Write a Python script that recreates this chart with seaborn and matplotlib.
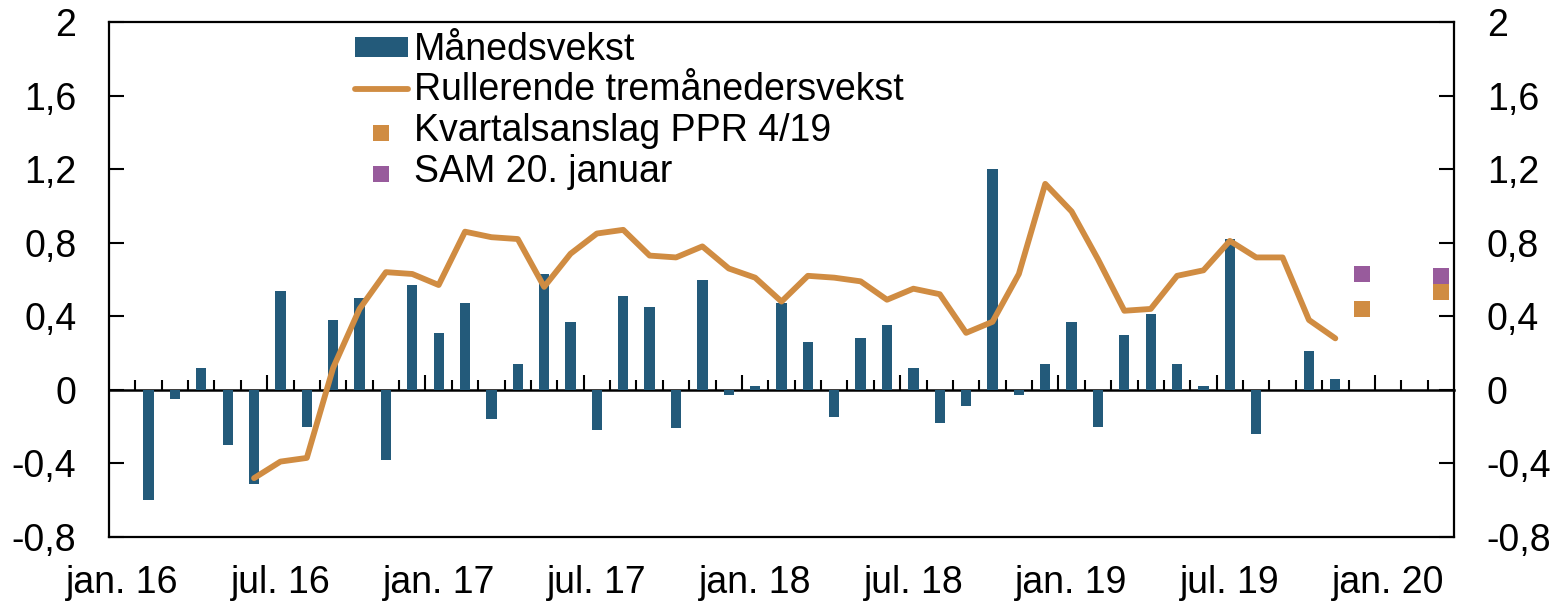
import numpy as np
import pandas as pd
import matplotlib
matplotlib.use('Agg')
import matplotlib.pyplot as plt
from matplotlib.ticker import FixedLocator, FixedFormatter
import seaborn as sns

# måneder jan. 16 - mar. 20
maaneder = pd.date_range('2016-01-01', periods=51, freq='MS').strftime('%Y-%m').tolist()

# månedsvekst (søyler), jan. 16 - nov. 19
manedsvekst = [np.nan, -0.60, -0.05, 0.12, -0.30, -0.51, 0.54, -0.20, 0.38, 0.50, -0.38, 0.57,
               0.31, 0.47, -0.16, 0.14, 0.63, 0.37, -0.22, 0.51, 0.45, -0.21, 0.60, -0.03,
               0.02, 0.47, 0.26, -0.15, 0.28, 0.35, 0.12, -0.18, -0.09, 1.20, -0.03, 0.14,
               0.37, -0.20, 0.30, 0.41, 0.14, 0.02, 0.82, -0.24, np.nan, 0.21, 0.06]
# rullerende tremånedersvekst, jun. 16 - nov. 19
tremnd_start = 5
tremnd = [-0.48, -0.39, -0.37, 0.12, 0.44, 0.64, 0.63,
          0.57, 0.86, 0.83, 0.82, 0.56, 0.74, 0.85, 0.87, 0.73, 0.72, 0.78, 0.66,
          0.61, 0.48, 0.62, 0.61, 0.59, 0.49, 0.55, 0.52, 0.31, 0.37, 0.63, 1.12,
          0.97, 0.71, 0.43, 0.44, 0.62, 0.65, 0.81, 0.72, 0.72, 0.38, 0.28]
# kvartalsanslag (des. 19 og mar. 20)
anslag_pos = [47, 50]
ppr_419 = [0.44, 0.53]
sam_20jan = [0.63, 0.62]

xtick_labels = ['jan. 16', 'jul. 16', 'jan. 17', 'jul. 17', 'jan. 18', 'jul. 18',
                'jan. 19', 'jul. 19', 'jan. 20']
ytick_vals = [-0.8, -0.4, 0, 0.4, 0.8, 1.2, 1.6, 2]
ytick_labels = ['-0,8', '-0,4', '0', '0,4', '0,8', '1,2', '1,6', '2']

blaa = '#235a7a'
oransje = '#d08c42'
lilla = '#985b9c'

sns.set_style('white')
plt.rcParams['font.family'] = ['Liberation Sans', 'DejaVu Sans']
plt.rcParams['text.color'] = 'black'
plt.rcParams['xtick.color'] = 'black'
plt.rcParams['ytick.color'] = 'black'
plt.rcParams['axes.labelcolor'] = 'black'

bar_df = pd.DataFrame({'maaned': maaneder[:len(manedsvekst)], 'vekst': manedsvekst})
line_df = pd.DataFrame({'pos': np.arange(tremnd_start, tremnd_start + len(tremnd)), 'vekst': tremnd})
ppr_df = pd.DataFrame({'pos': anslag_pos, 'vekst': ppr_419})
sam_df = pd.DataFrame({'pos': anslag_pos, 'vekst': sam_20jan})

fig = plt.figure(figsize=(15.62, 6.01), dpi=100)
ax = fig.add_axes([109 / 1562, 64 / 601, (1454 - 109) / 1562, (537 - 22) / 601])

sns.barplot(data=bar_df, x='maaned', y='vekst', order=maaneder, color=blaa, width=0.39,
            linewidth=0, saturation=1, label='Månedsvekst', ax=ax, zorder=2)
sns.lineplot(data=line_df, x='pos', y='vekst', color=oransje, linewidth=4.2,
             label='Rullerende tremånedersvekst', ax=ax, zorder=3)
sns.scatterplot(data=ppr_df, x='pos', y='vekst', color=oransje, marker='s', s=125,
                linewidth=0, label='Kvartalsanslag PPR 4/19', ax=ax, zorder=4)
sns.scatterplot(data=sam_df, x='pos', y='vekst', color=lilla, marker='s', s=125,
                linewidth=0, label='SAM 20. januar', ax=ax, zorder=4)

ax.set_xlim(-0.5, len(maaneder) - 0.5)
ax.set_ylim(-0.8, 2)
ax.set_xlabel('')
ax.set_ylabel('')

# x-akse: etiketter under, ingen streker
ax.xaxis.set_major_locator(FixedLocator(np.arange(0, len(maaneder), 6)))
ax.xaxis.set_major_formatter(FixedFormatter(xtick_labels))
ax.tick_params(axis='x', length=0, pad=20, labelsize=27)

# y-akse på begge sider
ax.yaxis.set_major_locator(FixedLocator(ytick_vals))
ax.yaxis.set_major_formatter(FixedFormatter(ytick_labels))
ax.tick_params(axis='y', direction='in', length=11, width=1.5, pad=23.5, labelsize=27,
               left=True, right=True, labelleft=True, labelright=True)

for sp in ax.spines.values():
    sp.set_visible(True)
    sp.set_color('black')
    sp.set_linewidth(1.6)

# nullinje med månedsstreker
null = ax.secondary_xaxis(0.8 / 2.8)
null.spines['bottom'].set_linewidth(1.8)
null.spines['bottom'].set_color('black')
null.set_xticks(np.arange(5.5, len(maaneder) - 1, 6))
null.set_xticks(np.arange(0.5, len(maaneder) - 1, 1), minor=True)
null.tick_params(axis='x', which='major', direction='in', length=11, width=1.5, labelbottom=False)
null.tick_params(axis='x', which='minor', direction='in', length=7, width=1.5, labelbottom=False)
null.set_xticklabels([])

handles, labels = ax.get_legend_handles_labels()
rekkefolge = ['Månedsvekst', 'Rullerende tremånedersvekst', 'Kvartalsanslag PPR 4/19', 'SAM 20. januar']
h_sortert = [handles[labels.index(n)] for n in rekkefolge]
ax.legend(h_sortert, rekkefolge, loc='upper left', bbox_to_anchor=(355 / 1562, 1 - 32 / 601),
          bbox_transform=fig.transFigure, frameon=False, fontsize=27, borderpad=0,
          borderaxespad=0, handlelength=1.41, handleheight=0.45, handletextpad=0.16,
          labelspacing=0.12)

fig.savefig('out.png', dpi=100)
